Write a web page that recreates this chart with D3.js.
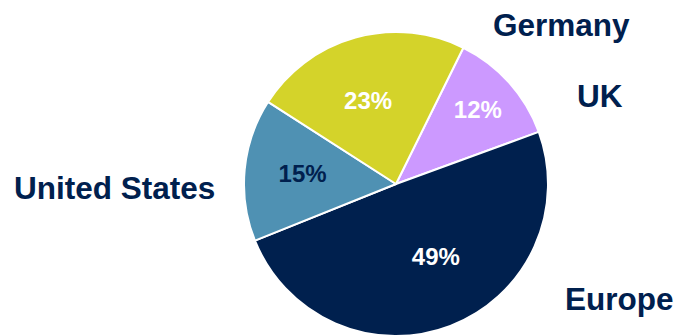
<!DOCTYPE html>
<html>
<head>
<meta charset="utf-8">
<script src="https://cdn.jsdelivr.net/npm/d3@7"></script>
<style>
  html, body { margin: 0; padding: 0; background: #ffffff; }
  svg { display: block; }
  text { font-family: Arial, "Liberation Sans", sans-serif; font-weight: bold; }
</style>
</head>
<body>
<svg id="chart" width="675" height="335"></svg>
<script>
// Share by region, drawn clockwise starting with the UK slice
const regions = ["UK", "Europe", "United States", "Germany"];
const shares = [12, 49, 15, 23];
const sliceColors = ["#cc99ff", "#00204e", "#4f91b3", "#d4d32a"];
const valueTextColors = ["#ffffff", "#ffffff", "#00204e", "#ffffff"];

// Label placement: radius for value labels and angular nudge (degrees)
const valueLabelRadius = [111, 83, 94, 88];
const valueLabelShift = [-0.6, -7.7, 1.3, -3];
// Region name anchors (left edge, baseline)
const regionLabelPos = [[577, 107], [565, 310], [14, 199], [493, 35.5]];

const svg = d3.select("#chart");
const cx = 396, cy = 184, radius = 152;
const startDeg = 26.3;
const rad = d => d * Math.PI / 180;

const pie = d3.pie()
  .value(d => d.value)
  .sort(null)
  .startAngle(rad(startDeg))
  .endAngle(rad(startDeg + 360));

const data = regions.map((r, i) => ({ region: r, value: shares[i], i }));
const arcs = pie(data);

const arc = d3.arc().innerRadius(0).outerRadius(radius);

const g = svg.append("g").attr("transform", `translate(${cx},${cy})`);

g.selectAll("path.slice")
  .data(arcs)
  .join("path")
  .attr("class", "slice")
  .attr("d", arc)
  .attr("fill", d => sliceColors[d.data.i])
  .attr("stroke", "#ffffff")
  .attr("stroke-width", 2)
  .attr("stroke-linejoin", "round");

g.selectAll("text.value")
  .data(arcs)
  .join("text")
  .attr("class", "value")
  .attr("transform", d => {
    const a = (d.startAngle + d.endAngle) / 2 + rad(valueLabelShift[d.data.i]);
    const r = valueLabelRadius[d.data.i];
    return `translate(${r * Math.sin(a)},${-r * Math.cos(a)})`;
  })
  .attr("text-anchor", "middle")
  .attr("dy", "0.36em")
  .attr("font-size", 24)
  .attr("fill", d => valueTextColors[d.data.i])
  .text(d => d.data.value + "%");

svg.selectAll("text.region")
  .data(data)
  .join("text")
  .attr("class", "region")
  .attr("x", d => regionLabelPos[d.i][0])
  .attr("y", d => regionLabelPos[d.i][1])
  .attr("font-size", 31.5)
  .attr("fill", "#00204e")
  .text(d => d.region);
</script>
</body>
</html>
